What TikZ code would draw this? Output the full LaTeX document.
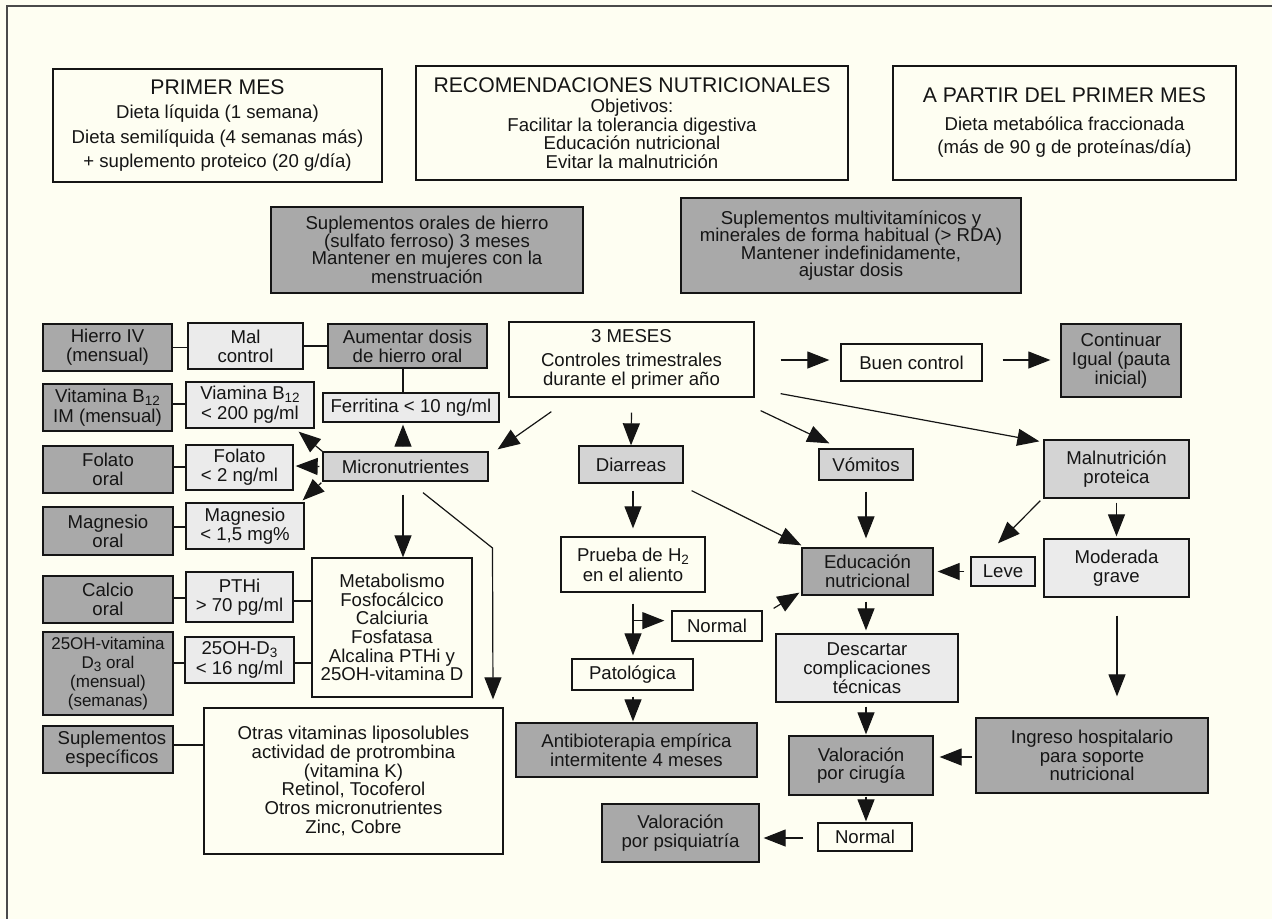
\documentclass[tikz,border=0pt]{standalone}
\usepackage{fontspec}
\setmainfont{Liberation Sans}
\usetikzlibrary{arrows.meta,calc}
\definecolor{bgc}{HTML}{FEFEF2}
\definecolor{dk}{HTML}{A9A9A9}
\definecolor{md}{HTML}{D4D4D4}
\definecolor{lt}{HTML}{EBEBEB}
\definecolor{ink}{HTML}{151515}
\definecolor{frm}{HTML}{4A4A4A}
\newcommand\mysub[1]{\raisebox{-0.17em}{\fontsize{13.5}{13.5}\selectfont #1}}
\begin{document}
\begin{tikzpicture}[x=1pt,y=-1pt,
  box/.style={draw=ink, line width=1.3pt, inner sep=0pt, align=center, text=ink, font=\fontsize{18.6}{18.7}\selectfont},
  wbox/.style={box},
  dbox/.style={box, fill=dk},
  mbox/.style={box, fill=md},
  lbox/.style={box, fill=lt},
  sz/.style 2 args={minimum width=#1pt, minimum height=#2pt},
  arr/.style={draw=ink, line width=1.2pt, -{Triangle[length=22pt,width=17pt]}},
  ln/.style={draw=ink, line width=1.2pt},
]
\useasboundingbox (0,0) rectangle (1272,919);
\fill[bgc] (0,0) rectangle (1272,919);
\draw[frm, line width=2pt] (1272,6) -- (7,6) -- (7,919);

% top boxes
\node[wbox, sz={329}{113}, font=\fontsize{18.6}{24.5}\selectfont] (primer) at (217.5,125.5)
  {{\fontsize{21.2}{24.5}\selectfont PRIMER MES}\\Dieta líquida (1 semana)\\Dieta semilíquida (4 semanas más)\\+ suplemento proteico (20 g/día)};
\node[wbox, sz={432}{114}, font=\fontsize{18.6}{18.5}\selectfont] (recom) at (632,123)
  {{\fontsize{21.2}{21}\selectfont RECOMENDACIONES NUTRICIONALES}\\[2pt]Objetivos:\\Facilitar la tolerancia digestiva\\Educación nutricional\\Evitar la malnutrición};
\node[wbox, sz={343}{114}, font=\fontsize{18.6}{23}\selectfont] (apartir) at (1064.5,123)
  {{\fontsize{21.2}{23}\selectfont A PARTIR DEL PRIMER MES}\\[5pt]Dieta metabólica fraccionada\\(más de 90 g de proteínas/día)};
\node[dbox, sz={312}{86}, font=\fontsize{18.6}{17.5}\selectfont] (hierro) at (427,250)
  {Suplementos orales de hierro\\(sulfato ferroso) 3 meses\\Mantener en mujeres con la\\menstruación};
\node[dbox, sz={340}{95}, font=\fontsize{18.6}{17.5}\selectfont] (multivit) at (851,245.5)
  {Suplementos multivitamínicos y\\minerales de forma habitual (> RDA)\\Mantener indefinidamente,\\ajustar dosis};

% left column
\node[dbox, sz={129}{47}] (hierroIV) at (107.5,347.5) {Hierro IV\\(mensual)};
\node[lbox, sz={115}{46}] (malctrl) at (245.5,346) {Mal\\control};
\node[dbox, sz={159}{44}] (aumentar) at (407.5,346) {Aumentar dosis\\de hierro oral};
\node[dbox, sz={129}{47}] (vitb) at (107.5,407.5) {Vitamina B\mysub{12}\\[1.5pt]IM (mensual)};
\node[lbox, sz={128}{46}] (viamina) at (250,405) {Viamina B\mysub{12}\\[1.5pt]< 200 pg/ml};
\node[lbox, sz={176}{29}] (ferritina) at (411,407.5) {Ferritina < 10 ng/ml};
\node[dbox, sz={130}{47}] (folatoOral) at (108,469.5) {Folato\\oral};
\node[lbox, sz={107}{45}] (folato) at (239.5,467.5) {Folato\\< 2 ng/ml};
\node[mbox, sz={165}{29}] (micro) at (405.5,466.5) {Micronutrientes};
\node[dbox, sz={130}{48}] (magOral) at (108,531) {Magnesio\\oral};
\node[lbox, sz={118}{46}] (mag) at (245,526) {Magnesio\\< 1,5 mg\%};
\node[dbox, sz={130}{47}] (calcio) at (108,599.5) {Calcio\\oral};
\node[lbox, sz={107}{50}] (pthi) at (239.5,597) {PTHi\\> 70 pg/ml};
\node[dbox, sz={130}{83}, font=\fontsize{17}{19}\selectfont] (dOral) at (108,673.5) {25OH-vitamina\\D\mysub{3} oral\\(mensual)\\(semanas)};
\node[lbox, sz={109}{46}] (dtres) at (239.5,660) {25OH-D\mysub{3}\\[1.5pt]< 16 ng/ml};
\node[wbox, sz={160}{139}] (metab) at (392,627.5) {Metabolismo\\Fosfocálcico\\Calciuria\\Fosfatasa\\Alcalina PTHi y\\25OH-vitamina D};
\node[dbox, sz={130}{47}] (suplEsp) at (108,749.5) {\hspace*{8pt}Suplementos\\\hspace*{8pt}específicos};
\node[wbox, sz={299}{146}] (otras) at (353.5,781) {Otras vitaminas liposolubles\\actividad de protrombina\\(vitamina K)\\Retinol, Tocoferol\\Otros micronutrientes\\Zinc, Cobre};

% middle / right
\node[wbox, sz={245}{75}] (mtres) at (631.5,359.5) {3 MESES\\[5pt]Controles trimestrales\\durante el primer año};
\node[wbox, sz={141}{37}] (buen) at (911.5,362.5) {Buen control};
\node[dbox, sz={120}{73}] (continuar) at (1121,360.5) {Continuar\\Igual (pauta\\inicial)};
\node[mbox, sz={104}{37}] (diarreas) at (631,464.5) {Diarreas};
\node[mbox, sz={94}{31}] (vomitos) at (866,464.5) {Vómitos};
\node[mbox, sz={145}{58}] (malnut) at (1116.5,469) {Malnutrición\\proteica};
\node[wbox, sz={144}{55}] (prueba) at (633,564.5) {Prueba de H\mysub{2}\\[1.5pt]en el aliento};
\node[dbox, sz={131}{47}] (educ) at (867.5,571.5) {Educación\\nutricional};
\node[lbox, sz={64}{29}] (leve) at (1003,571.5) {Leve};
\node[lbox, sz={145}{58}] (moderada) at (1116.5,568) {Moderada\\grave};
\node[wbox, sz={90}{30}] (normalA) at (717,626) {Normal};
\node[wbox, sz={121}{31}] (patol) at (632.5,674.5) {Patológica};
\node[dbox, sz={241}{54}] (antibio) at (636.5,750) {Antibioterapia empírica\\intermitente 4 meses};
\node[lbox, sz={182}{68}] (descartar) at (867,668) {Descartar\\complicaciones\\técnicas};
\node[dbox, sz={144}{59}] (valcir) at (861,765.5) {Valoración\\por cirugía};
\node[dbox, sz={232}{75}] (ingreso) at (1092,755.5) {Ingreso hospitalario\\para soporte\\nutricional};
\node[wbox, sz={94}{28}] (normalB) at (865,837) {Normal};
\node[dbox, sz={157}{58}] (psiq) at (680.5,833) {Valoración\\por psiquiatría};

% plain connectors (left)
\draw[ln] (hierroIV.east) -- (hierroIV.east -| malctrl.west);
\draw[ln] (malctrl.east) -- (malctrl.east -| aumentar.west);
\draw[ln] ([xshift=-4.5pt]aumentar.south) -- ([xshift=-4.5pt]aumentar.south |- ferritina.north);
\draw[ln] ([shift={(0,-3.5)}]vitb.east) -- ([shift={(0,-3.5)}]vitb.east -| viamina.west);
\draw[ln] ([shift={(0,-2.5)}]folatoOral.east) -- ([shift={(0,-2.5)}]folatoOral.east -| folato.west);
\draw[ln] ([shift={(0,-4)}]magOral.east) -- ([shift={(0,-4)}]magOral.east -| mag.west);
\draw[ln] ([shift={(0,-1.5)}]calcio.east) -- ([shift={(0,-1.5)}]calcio.east -| pthi.west);
\draw[ln] ([shift={(0,4)}]pthi.east) -- ([shift={(0,4)}]pthi.east -| metab.west);
\draw[ln] ([shift={(0,-10.5)}]dOral.east) -- ([shift={(0,-10.5)}]dOral.east -| dtres.west);
\draw[ln] ([shift={(0,3)}]dtres.east) -- ([shift={(0,3)}]dtres.east -| metab.west);
\draw[ln] ([shift={(0,-4.5)}]suplEsp.east) -- ([shift={(0,-4.5)}]suplEsp.east -| otras.west);

% arrows from Micronutrientes
\draw[arr] ([shift={(-2.5,-5)}]micro.north) -- ([shift={(-8,2)}]ferritina.south);
\draw[arr] (micro.north west) -- ([shift={(-16,3)}]viamina.south east);
\draw[arr] ([shift={(-3,0)}]micro.west) -- ([shift={(2,-1.5)}]folato.east);
\draw[arr] ([shift={(-1,1)}]micro.south west) -- ([shift={(-2,-2)}]mag.north east);
\draw[arr] ([shift={(-2.5,13)}]micro.south) -- ([shift={(11,0)}]metab.north);
\coordinate (bend) at (492.5,548);
\draw[arr] ([shift={(17.5,11)}]micro.south) -- (bend) -- ([shift={(139.5,-8)}]otras.north);

% arrows from 3 MESES
\draw[arr] ([shift={(43,14)}]mtres.south west) -- ([shift={(9,-2)}]micro.north east);
\draw[arr] ([shift={(0,15)}]mtres.south) -- (diarreas.north);
\draw[arr] ([shift={(6,13)}]mtres.south east) -- ([shift={(11,-5)}]vomitos.north west);
\draw[arr] ([shift={(26,0.5)}]mtres.east) -- ([shift={(-11,-2.5)}]buen.west);
\draw[arr] ([shift={(20,-2.5)}]buen.east) -- ([shift={(-10,-0.5)}]continuar.west);
\draw[arr] ([shift={(26,-4)}]mtres.south east) -- ([shift={(-4,2)}]malnut.north west);

% right branch
\draw[arr] ([shift={(-3,2)}]malnut.south west) -- ([shift={(-5,-13)}]leve.north);
\draw[arr] ([shift={(0,4)}]malnut.south) -- ([shift={(0,-2)}]moderada.north);
\draw[arr] ([shift={(-6,0)}]leve.west) -- ([shift={(4,0)}]educ.east);
\draw[arr] ([shift={(0.5,18)}]moderada.south) -- ([shift={(25,-21)}]ingreso.north);
\draw[arr] ([shift={(-3,1.5)}]ingreso.west) -- ([shift={(6,-8.5)}]valcir.east);

% middle branch
\draw[arr] ([shift={(2,7)}]diarreas.south) -- ([shift={(0,-8)}]prueba.north);
\draw[arr] ([shift={(8,7)}]diarreas.south east) -- ([shift={(0,-2)}]educ.north west);
\draw[arr] ([shift={(0,11)}]vomitos.south) -- ([shift={(-1.5,-9)}]educ.north);
\draw[arr] ([shift={(0,11)}]prueba.south) -- ([shift={(0.5,-3)}]patol.north);
\coordinate (br) at ($(prueba.south)+(0,28)$);
\draw[arr] (br) -- ($(br -| normalA.west)+(-7,0)$);
\draw[arr] ([shift={(11,-2)}]normalA.north east) -- ([shift={(-2,-3)}]educ.south west);
\draw[arr] ([shift={(0.5,6)}]patol.south) -- ([shift={(-3.5,-1)}]antibio.north);
\draw[arr] ([shift={(-1.5,6)}]educ.south) -- ([shift={(-1,-3)}]descartar.north);
\draw[arr] ([shift={(-1,4)}]descartar.south) -- ([shift={(5,-1)}]valcir.north);
\draw[arr] ([shift={(5,1)}]valcir.south) -- ([shift={(1,-1)}]normalB.north);
\draw[arr] ([shift={(-14,1)}]normalB.west) -- ([shift={(4,5)}]psiq.east);
\end{tikzpicture}
\end{document}
